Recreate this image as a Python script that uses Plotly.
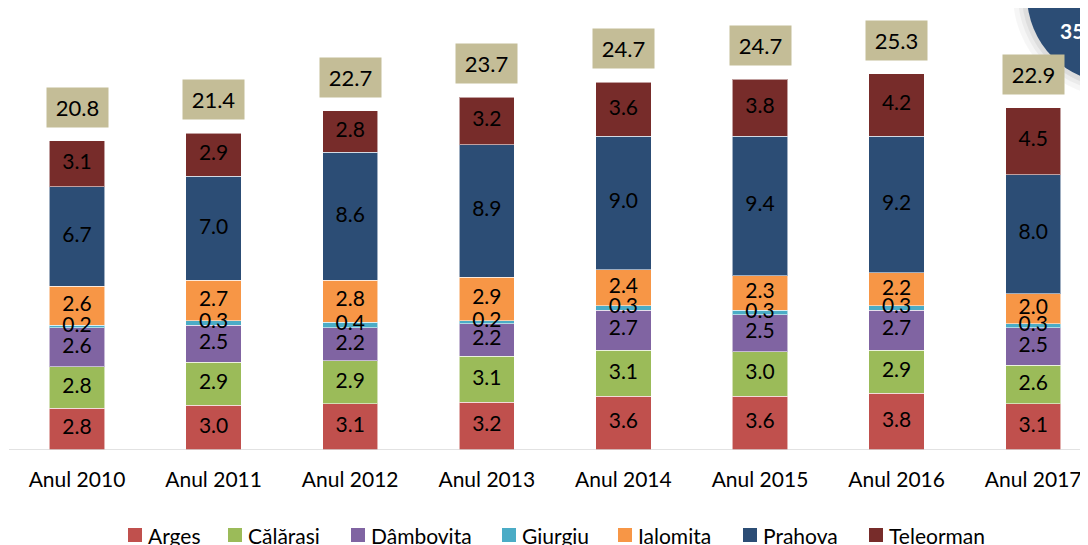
import plotly.graph_objects as go

years = ["Anul 2010", "Anul 2011", "Anul 2012", "Anul 2013", "Anul 2014", "Anul 2015", "Anul 2016", "Anul 2017"]
arges = [2.8, 3.0, 3.1, 3.2, 3.6, 3.6, 3.8, 3.1]
calarasi = [2.8, 2.9, 2.9, 3.1, 3.1, 3.0, 2.9, 2.6]
dambovita = [2.6, 2.5, 2.2, 2.2, 2.7, 2.5, 2.7, 2.5]
giurgiu = [0.2, 0.3, 0.4, 0.2, 0.3, 0.3, 0.3, 0.3]
ialomita = [2.6, 2.7, 2.8, 2.9, 2.4, 2.3, 2.2, 2.0]
prahova = [6.7, 7.0, 8.6, 8.9, 9.0, 9.4, 9.2, 8.0]
teleorman = [3.1, 2.9, 2.8, 3.2, 3.6, 3.8, 4.2, 4.5]
totals = [20.8, 21.4, 22.7, 23.7, 24.7, 24.7, 25.3, 22.9]
series_names = ["Argeș", "Călărași", "Dâmbovița", "Giurgiu", "Ialomița", "Prahova", "Teleorman"]
badge_text = "35%"

series_values = [arges, calarasi, dambovita, giurgiu, ialomita, prahova, teleorman]
series_colors = ["#C0504D", "#9BBB59", "#8064A2", "#4BACC6", "#F79646", "#2C4D75", "#772C2A"]

FONT = "Lato, 'Open Sans', sans-serif"

# page geometry (the html body adds an 8px margin)
OFF = 8
W, H = 1080, 537
ml, mr, mt, mb = 1, 0, 0, 95
pw, ph = W - ml - mr, H - mt - mb

def px_x(px):  # page px -> paper x
    return (px - OFF - ml) / pw

def px_y(py):  # page py -> paper y
    return (H - mb - (py - OFF)) / ph

fig = go.Figure()
idx = list(range(len(years)))
base = [0.0] * len(years)
label_x, label_y, label_t = [], [], []
for name, vals, col in zip(series_names, series_values, series_colors):
    fig.add_trace(go.Bar(
        x=idx, y=vals, name=name, width=0.405, showlegend=False,
        marker=dict(color=col, line=dict(color="rgba(255,255,255,0.55)", width=1)),
        hoverinfo="skip",
    ))
    for i, v in enumerate(vals):
        label_x.append(i)
        label_y.append(base[i] + v / 2)
        label_t.append(f"{v:.1f}")
        base[i] += v

fig.add_trace(go.Scatter(
    x=label_x, y=label_y, text=label_t, mode="text", showlegend=False,
    textfont=dict(family=FONT, size=21, color="#000000"), hoverinfo="skip",
))

for i, t in enumerate(totals):
    fig.add_annotation(
        x=i, y=base[i], text=f"{t:.1f}", showarrow=False, yshift=33.5,
        xref="x", yref="y", bgcolor="#C4BD97", width=59, height=37,
        font=dict(family=FONT, size=22, color="#000000"), valign="middle",
    )

# custom legend matching the reference's compact spacing
legend_left = [128, 228, 351, 502, 618, 743, 869]
for name, col, lx in zip(series_names, series_colors, legend_left):
    fig.add_shape(type="rect", xref="paper", yref="paper",
                  x0=px_x(lx), x1=px_x(lx + 14), y0=px_y(542), y1=px_y(528),
                  fillcolor=col, line=dict(width=0))
    fig.add_annotation(x=px_x(lx + 18), y=px_y(535), xref="paper", yref="paper",
                       text=name, showarrow=False, xanchor="left", yanchor="middle",
                       font=dict(family=FONT, size=21, color="#000000"))

# decorative badge in the top-right corner (partially cut off)
cx, cy, r = 1115, -5, 88
for extra, op in [(14, 0.035), (9, 0.045), (5, 0.06)]:
    fig.add_shape(type="circle", xref="paper", yref="paper",
                  x0=px_x(cx - r - extra), x1=px_x(cx + r + extra),
                  y0=px_y(cy + r + extra), y1=px_y(cy - r - extra),
                  fillcolor="rgba(0,0,0,1)", opacity=op, line=dict(width=0), layer="above")
fig.add_shape(type="circle", xref="paper", yref="paper",
              x0=px_x(cx - r), x1=px_x(cx + r),
              y0=px_y(cy + r), y1=px_y(cy - r),
              fillcolor="#2C4D75", line=dict(width=0), layer="above")
fig.add_annotation(x=px_x(1058), y=px_y(30), xref="paper", yref="paper",
                   text=f"<b>{badge_text}</b>", showarrow=False, xanchor="left", yanchor="middle",
                   font=dict(family=FONT, size=21, color="#FFFFFF"))

x0 = -(77 - OFF - ml) / 136.6
fig.update_layout(
    width=W, height=H, barmode="stack",
    margin=dict(l=ml, r=mr, t=mt, b=mb, autoexpand=False),
    paper_bgcolor="#FFFFFF", plot_bgcolor="#FFFFFF",
    font=dict(family=FONT, size=21, color="#000000"),
    xaxis=dict(tickmode="array", tickvals=idx, ticktext=years, range=[x0, x0 + pw / 136.6],
               showgrid=False, zeroline=False, showline=False, ticks="",
               tickfont=dict(family=FONT, size=21, color="#000000"), ticklabelstandoff=15),
    yaxis=dict(range=[0, ph / 14.88], visible=False, showgrid=False, zeroline=False),
    showlegend=False,
)
fig.add_shape(type="line", xref="paper", yref="y", x0=0, x1=1, y0=0, y1=0,
              line=dict(color="#D9D9D9", width=1.5), layer="above")

fig.write_html("out.html")
